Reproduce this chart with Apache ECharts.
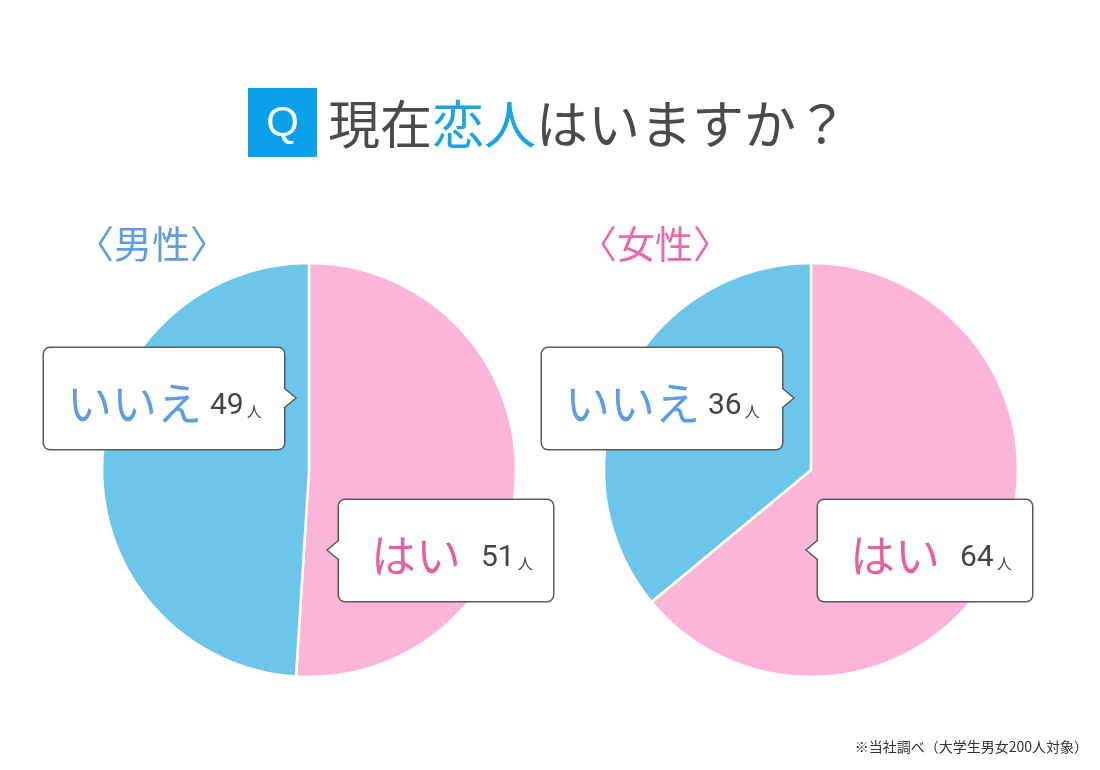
<!DOCTYPE html>
<html><head><meta charset="utf-8">
<script src="https://cdn.jsdelivr.net/npm/echarts@6/dist/echarts.min.js"></script>
<style>html,body{margin:0;padding:0;background:#fff}#c{width:1100px;height:770px}</style>
</head><body><div id="c"></div>
<script>
const categories = ['はい', 'いいえ'];
const maleValues = [51, 49];
const femaleValues = [64, 36];
const groupLabels = ['〈男性〉', '〈女性〉'];
const titleParts = ['現在', '恋人', 'はいますか？'];
const unitLabel = '人';
const footnote = '※当社調べ（大学生男女200人対象）';

const FONT = '"Noto Sans CJK JP", "Noto Sans", sans-serif';
const chart = echarts.init(document.getElementById('c'));

function makeData(vals) {
  return categories.map((c, i) => ({ name: c, value: vals[i] }));
}
function fmt(p) {
  if (p.dataIndex === 0) return '{yes|' + p.name + '}{numY|' + p.value + '}{unit|' + unitLabel + '}';
  return '{no|' + p.name + '}{numN|' + p.value + '}{unit|' + unitLabel + '}';
}
const rich = {
  yes: { fontSize: 45, color: '#e6609f', fontFamily: FONT, lineHeight: 56, verticalAlign: 'bottom' },
  no: { fontSize: 45, color: '#5e9ce6', fontFamily: FONT, lineHeight: 56, verticalAlign: 'bottom' },
  numY: { fontSize: 30, color: '#444', fontFamily: 'Roboto, sans-serif', padding: [0, 3, 5, 20], verticalAlign: 'bottom' },
  numN: { fontSize: 30, color: '#444', fontFamily: 'Roboto, sans-serif', padding: [0, 3, 5, 8], verticalAlign: 'bottom' },
  unit: { fontSize: 15, color: '#444', fontFamily: FONT, padding: [0, 0, 7, 0], verticalAlign: 'bottom' }
};
function boxLabel() {
  return {
    show: true,
    formatter: fmt,
    rich: rich,
    backgroundColor: '#fff',
    borderColor: '#5a5a5a',
    borderWidth: 1.5,
    borderRadius: 6
  };
}
const boxes = {
  male: [{ x: 339, y: 500, w: 214, pl: 32 }, { x: 44, y: 348, w: 240, pl: 23 }],
  female: [{ x: 818, y: 500, w: 214, pl: 32 }, { x: 542, y: 348, w: 240, pl: 23 }]
};
function pieSeries(vals, center, bx) {
  return {
    type: 'pie',
    center: center,
    radius: 207,
    startAngle: 90,
    clockwise: true,
    animation: false,
    silent: true,
    data: makeData(vals).map((d, i) => Object.assign(d, {
      label: Object.assign(boxLabel(), {
        width: bx[i].w - bx[i].pl,
        height: 101 - 44,
        padding: [22, 0, 22, bx[i].pl]
      })
    })),
    itemStyle: { borderColor: '#fff', borderWidth: 2.5 },
    labelLine: { show: false },
    labelLayout: function (p) {
      const b = bx[p.dataIndex];
      return { x: b.x, y: b.y, align: 'left', verticalAlign: 'top' };
    }
  };
}
function arrow(side, bx, by) {
  const cy = by + 50;
  const d = side === 'right' ? 1 : -1;
  return [
    { type: 'polygon', z: 100, shape: { points: [[bx - d * 2, cy - 11], [bx + d * 12, cy], [bx - d * 2, cy + 11]] }, style: { fill: '#fff' } },
    { type: 'polyline', z: 101, shape: { points: [[bx, cy - 10], [bx + d * 12, cy], [bx, cy + 10]] }, style: { stroke: '#5a5a5a', lineWidth: 1.5, fill: null } }
  ];
}

chart.setOption({
  color: ['#fbb5d9', '#6cc6ea'],
  graphic: [
    { type: 'rect', z: 10, shape: { x: 248, y: 88, width: 69, height: 69 }, style: { fill: '#0ba1ea' } },
    { type: 'text', z: 11, x: 282.5, y: 124, style: { text: 'Q', fill: '#fff', font: '42px Roboto, sans-serif', fontSize: 42, align: 'center', verticalAlign: 'middle' } },
    {
      type: 'text', z: 11, x: 328, y: 124,
      style: {
        text: '{a|' + titleParts[0] + '}{b|' + titleParts[1] + '}{a|' + titleParts[2] + '}',
        verticalAlign: 'middle',
        rich: {
          a: { fontSize: 52, fill: '#4a4a4a', fontFamily: FONT },
          b: { fontSize: 52, fill: '#1aa4e2', fontFamily: FONT }
        }
      }
    },
    { type: 'text', z: 11, x: 76, y: 244, style: { text: groupLabels[0], fill: '#5e9fe4', fontSize: 38, fontFamily: FONT, verticalAlign: 'middle' } },
    { type: 'text', z: 11, x: 579, y: 244, style: { text: groupLabels[1], fill: '#ea69a9', fontSize: 38, fontFamily: FONT, verticalAlign: 'middle' } },
    { type: 'text', z: 11, right: 12, top: 740, style: { text: footnote, fill: '#333', fontSize: 14, fontFamily: FONT } },
    ...arrow('right', 284, 348),
    ...arrow('left', 339, 500),
    ...arrow('right', 782, 348),
    ...arrow('left', 818, 500)
  ],
  series: [
    pieSeries(maleValues, [309, 470], boxes.male),
    pieSeries(femaleValues, [811, 470], boxes.female)
  ]
});
</script></body></html>
